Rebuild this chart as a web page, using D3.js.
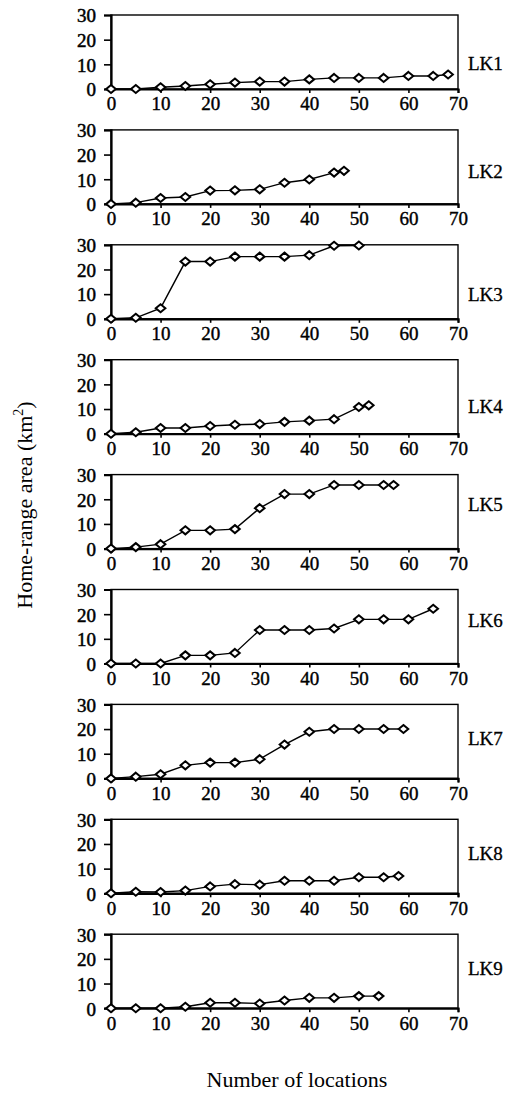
<!DOCTYPE html>
<html>
<head>
<meta charset="utf-8">
<script src="https://cdn.jsdelivr.net/npm/d3@7"></script>
<style>
  html, body { margin: 0; padding: 0; background: #fff; }
  svg { display: block; }
  text { font-family: "Liberation Serif", "Times New Roman", serif; fill: #000; }
</style>
</head>
<body>
<svg id="chart" width="515" height="1094"></svg>
<script>
// ---- data ----
const panelNames = ["LK1", "LK2", "LK3", "LK4", "LK5", "LK6", "LK7", "LK8", "LK9"];
const xTicks = [0, 10, 20, 30, 40, 50, 60, 70];
const yTicks = [0, 10, 20, 30];

const lk1x = [0, 5, 10, 15, 20, 25, 30, 35, 40, 45, 50, 55, 60, 65, 68];
const lk1y = [0, 0, 0.7, 1.2, 1.9, 2.6, 3.0, 3.0, 3.9, 4.5, 4.5, 4.5, 5.3, 5.3, 5.9];

const lk2x = [0, 5, 10, 15, 20, 25, 30, 35, 40, 45, 47];
const lk2y = [0, 0.5, 2.4, 2.8, 5.4, 5.5, 5.9, 8.6, 9.9, 12.7, 13.4];

const lk3x = [0, 5, 10, 15, 20, 25, 30, 35, 40, 45, 50];
const lk3y = [0, 0.4, 4.3, 23.2, 23.2, 25.2, 25.2, 25.2, 25.8, 29.6, 29.7];

const lk4x = [0, 5, 10, 15, 20, 25, 30, 35, 40, 45, 50, 52];
const lk4y = [0, 0.6, 2.3, 2.3, 3.1, 3.6, 3.9, 4.8, 5.3, 5.9, 10.8, 11.5];

const lk5x = [0, 5, 10, 15, 20, 25, 30, 35, 40, 45, 50, 55, 57];
const lk5y = [0, 0.6, 1.8, 7.4, 7.4, 7.9, 16.4, 22.1, 22.1, 25.8, 25.8, 25.8, 25.8];

const lk6x = [0, 5, 10, 15, 20, 25, 30, 35, 40, 45, 50, 55, 60, 65];
const lk6y = [0, 0, 0, 3.3, 3.3, 4.3, 13.6, 13.6, 13.6, 14.2, 17.9, 17.9, 17.9, 22.2];

const lk7x = [0, 5, 10, 15, 20, 25, 30, 35, 40, 45, 50, 55, 59];
const lk7y = [0, 0.7, 1.7, 5.3, 6.4, 6.4, 7.8, 13.7, 18.9, 20, 20, 20, 20];

const lk8x = [0, 5, 10, 15, 20, 25, 30, 35, 40, 45, 50, 55, 58];
const lk8y = [0, 0.6, 0.5, 1.1, 2.8, 3.7, 3.5, 5.1, 5.1, 5.1, 6.5, 6.5, 7.0];

const lk9x = [0, 5, 10, 15, 20, 25, 30, 35, 40, 45, 50, 54];
const lk9y = [0, 0, 0, 0.6, 2.2, 2.2, 1.9, 3.1, 4.2, 4.2, 4.9, 4.9];

const seriesX = [lk1x, lk2x, lk3x, lk4x, lk5x, lk6x, lk7x, lk8x, lk9x];
const seriesY = [lk1y, lk2y, lk3y, lk4y, lk5y, lk6y, lk7y, lk8y, lk9y];

const yTitle = "Home-range area (km";
const xTitle = "Number of locations";

// ---- layout (not data) ----
const left = 111, right = 458;
const firstTop = 15, step = 114.9, plotH = 74;
const labelOffsets = [48, 41, 50, 47, 30, 31, 34, 34, 34];
const serif = '"Liberation Serif", "Times New Roman", serif';

const svg = d3.select("#chart");
const x = d3.scaleLinear().domain([0, 70]).range([left, right]);

panelNames.forEach((name, i) => {
  const top = firstTop + i * step;
  const y = d3.scaleLinear().domain([0, 30]).range([top + plotH, top]);
  const g = svg.append("g");

  // frame
  g.append("rect")
    .attr("x", left).attr("y", top)
    .attr("width", right - left).attr("height", plotH)
    .attr("fill", "none").attr("stroke", "#000").attr("stroke-width", 1.4);

  // y axis
  const ya = g.append("g").attr("transform", `translate(${left},0)`)
    .call(d3.axisLeft(y).tickValues(yTicks).tickSize(7).tickPadding(8).tickFormat(d3.format("d")));
  ya.attr("font-family", serif);
  ya.select(".domain").attr("stroke-width", 2.2);
  ya.selectAll(".tick line").attr("stroke-width", 1.6);
  ya.selectAll("text").attr("font-size", 19).attr("dy", "0.36em")
    .attr("font-family", serif)
    .attr("stroke", "#000").attr("stroke-width", 0.5);

  // x axis
  const xa = g.append("g").attr("transform", `translate(0,${top + plotH})`)
    .call(d3.axisBottom(x).tickValues(xTicks).tickSize(4).tickPadding(4).tickFormat(d3.format("d")));
  xa.attr("font-family", serif);
  xa.select(".domain").attr("stroke-width", 2.2);
  xa.selectAll(".tick line").attr("stroke-width", 1.6);
  xa.selectAll("text").attr("font-size", 19)
    .attr("font-family", serif)
    .attr("stroke", "#000").attr("stroke-width", 0.4);

  const pts = seriesX[i].map((v, k) => [v, seriesY[i][k]]);

  g.append("path")
    .datum(pts)
    .attr("fill", "none").attr("stroke", "#000").attr("stroke-width", 1.4)
    .attr("d", d3.line().x(d => x(d[0])).y(d => y(d[1])));

  g.selectAll("path.mk").data(pts).enter().append("path")
    .attr("class", "mk")
    .attr("transform", d => `translate(${x(d[0])},${y(d[1])})`)
    .attr("d", "M0,-4 L4.8,0 L0,4 L-4.8,0 Z")
    .attr("fill", "#fff").attr("stroke", "#000").attr("stroke-width", 2);

  g.append("text")
    .attr("x", 468).attr("y", top + labelOffsets[i])
    .attr("dy", "0.35em")
    .attr("font-size", 19)
    .attr("font-family", serif)
    .attr("stroke", "#000").attr("stroke-width", 0.3)
    .text(name);
});

// axis titles
const yt = svg.append("text")
  .attr("transform", "translate(32,505) rotate(-90)")
  .attr("text-anchor", "middle")
  .attr("font-family", serif)
  .attr("font-size", 22);
yt.append("tspan").text(yTitle);
yt.append("tspan").attr("font-size", 14).attr("dy", -9).text("2");
yt.append("tspan").attr("dy", 9).text(")");

svg.append("text")
  .attr("x", 297).attr("y", 1087)
  .attr("text-anchor", "middle")
  .attr("font-family", serif)
  .attr("font-size", 22)
  .text(xTitle);
</script>
</body>
</html>
